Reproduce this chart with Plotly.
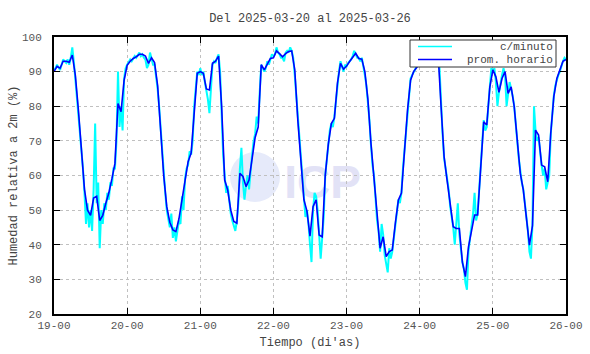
import pandas as pd
import plotly.graph_objects as go

# ---------------- data ----------------
start = "2025-03-19 00:00"

# hourly average (prom. horario), one value per hour from 19-00 to 26-00
prom_dia19 = [90, 91.5, 91, 93, 93, 92.7, 94.8, 89, 79, 68, 56, 50, 48.5, 53.5, 54, 47,
              48.5, 52, 55, 59, 63.5, 80.8, 78.4, 87.5]
prom_dia20 = [91.8, 93, 93.8, 94.3, 95, 95, 94.5, 92.4, 94, 92.6, 86, 73, 60, 51, 46.5, 44.3,
              43.8, 47.5, 53, 59.7, 64, 66.5, 78, 89.5]
prom_dia21 = [90, 89.5, 85, 84.7, 92.4, 93, 94.5, 80, 58.7, 55.8, 50, 46.7, 46.2, 60.6, 59.7, 56.8,
              58.7, 65, 71, 74, 92, 90.5, 92.4, 93.8]
prom_dia22 = [94, 96, 95.2, 94.3, 95.2, 95.8, 96, 90.5, 76, 64, 53, 49.7, 42.5, 51, 53, 42.8,
              42.3, 60, 69, 75, 76.5, 86.6, 92.4, 90.7]
prom_dia23 = [91.6, 92.9, 94, 95.3, 93.8, 93.6, 90, 82, 69.3, 59.7, 48, 39, 42.3, 36.6, 38, 38.5,
              46.2, 52.9, 54.9, 67.4, 78.9, 87.5, 90, 91.2]
prom_dia24 = [92.4, 93.2, 93.8, 93.4, 95, 95.5, 95.7, 80, 65.4, 58.5, 52, 45.2, 44.7, 44.7, 35, 30.8,
              39.4, 44.3, 48.6, 48.6, 63.5, 75.5, 74.6, 85.5]
prom_dia25 = [90.5, 88.5, 84, 88, 90, 83.7, 85.6, 80, 70.3, 60.6, 55.8, 48.1, 39.9, 45.5, 73.1, 71.7,
              63, 62.5, 58.2, 72.2, 82.8, 88, 90.5, 93]
prom_final = [93.5]

min_dia19 = [90.5, 91, 92, 91, 90.5, 92, 93.5, 93, 92.5, 93.5, 92, 94, 97, 93, 88, 84, 78, 74, 69, 62,
             55, 46, 52, 45, 50, 44, 56, 75, 52, 58, 39, 50, 46, 52, 50, 55, 53, 58, 57, 62,
             62, 70, 90, 74, 80, 73, 88, 91]
min_dia20 = [92, 93, 93.5, 93, 94, 94.5, 94, 95, 95.5, 94.5, 95, 94, 93.5, 91, 92, 95.5, 93.5, 92, 92, 89,
             85, 80, 73, 67, 60, 55, 50, 47, 45, 49, 42, 45, 41, 44, 47, 46, 54, 50, 59, 62,
             63, 67, 66, 70, 80, 85, 90, 89]
min_dia21 = [91, 89, 90, 87, 85, 82, 78, 87, 92, 93, 92.5, 94, 95, 90, 78, 66, 60, 55, 57, 53,
             49, 47, 45, 44, 47, 52, 62, 68, 58, 53, 57, 60, 56, 62, 66, 70, 72, 77, 75, 84,
             92, 91, 90, 91, 93, 92, 93.5, 95]
min_dia22 = [94.5, 95, 97, 95.5, 95, 94, 94, 93, 95.5, 96, 95.5, 97, 96, 94, 89, 83, 77, 70, 64, 58,
             53, 48, 50, 46, 40, 35, 50, 55, 54, 50, 43, 36, 42, 48, 60, 65, 69, 73, 75, 74,
             77, 82, 87, 90, 93, 91, 90, 92]
min_dia23 = [91.5, 92.5, 93, 93.5, 94.5, 96, 95, 94, 94, 93, 94, 92, 89, 86, 82, 76, 69, 63, 60, 52,
             47, 44, 38, 46, 43, 37, 35, 32, 39, 36, 38, 42, 46, 50, 53, 52, 55, 62, 67, 73,
             79, 84, 88, 89, 90, 91, 91.5, 92]
min_dia24 = [92.5, 93, 93.5, 93, 94, 93.5, 93, 94.5, 95, 96, 95.5, 96, 96, 91, 79, 72, 65, 62, 58, 56,
             51, 48, 45, 40, 46, 52, 43, 38, 35, 33, 29, 27, 38, 42, 45, 49, 55, 47, 49, 56,
             63, 70, 76, 73, 74, 80, 85, 91]
min_dia25 = [90, 91, 87, 80, 84, 87, 89, 91, 89, 80, 84, 87, 85, 83, 80, 76, 70, 65, 61, 58,
             56, 52, 48, 44, 38, 36, 46, 80, 73, 70, 71, 66, 63, 60, 62, 56, 58, 60, 72, 78,
             83, 86, 88, 89, 90, 92, 93, 94]
min_final = [93.5]

tick_dias = ["2025-03-19", "2025-03-20", "2025-03-21", "2025-03-22",
             "2025-03-23", "2025-03-24", "2025-03-25", "2025-03-26"]

titulo = "Del 2025-03-20 al 2025-03-26"
eje_x = "Tiempo (di'as)"
eje_y = "Humedad relativa a 2m (%)"
nombre_min = "c/minuto"
nombre_prom = "prom. horario"

# ---------------- build ----------------
prom = (prom_dia19 + prom_dia20 + prom_dia21 + prom_dia22 + prom_dia23 +
        prom_dia24 + prom_dia25 + prom_final)
minuto = (min_dia19 + min_dia20 + min_dia21 + min_dia22 + min_dia23 +
          min_dia24 + min_dia25 + min_final)

t_prom = pd.date_range(start, periods=len(prom), freq="h")
t_min = pd.date_range(start, periods=len(minuto), freq="30min")

MONO = "Liberation Mono, Courier New, monospace"
C_MIN = "#00ffff"
C_PROM = "#0000ff"

fig = go.Figure()
fig.add_trace(go.Scatter(x=t_min, y=minuto, mode="lines",
                         line=dict(color=C_MIN, width=2), name=nombre_min,
                         showlegend=False))
fig.add_trace(go.Scatter(x=t_prom, y=prom, mode="lines",
                         line=dict(color=C_PROM, width=1.6), name=nombre_prom,
                         showlegend=False))

L, R, T, B = 54, 24, 37, 40
W, H = 590, 354
pw, ph = W - L - R, H - T - B

def px(x):
    return (x - L) / pw

def py(y):
    return (H - B - y) / ph

# faint logo watermark behind the data
fig.add_shape(type="circle", xref="paper", yref="paper",
              x0=px(230), x1=px(280), y0=py(202), y1=py(152),
              fillcolor="#e6eafa", line=dict(width=0), layer="below")
fig.add_shape(type="rect", xref="paper", yref="paper",
              x0=px(283), x1=px(362), y0=py(200), y1=py(155),
              fillcolor="rgba(0,0,0,0)", line=dict(width=0), layer="below",
              label=dict(text="<b>ICP</b>", font=dict(family="Liberation Sans, Arial", size=46,
                                                      color="#e2e2f6")))

# legend box (drawn to match the compact, right-aligned original)
fig.add_shape(type="rect", xref="paper", yref="paper",
              x0=px(410), x1=px(556), y0=py(67), y1=py(40),
              fillcolor="white", line=dict(color="#333333", width=1), layer="above")
for yy, col, txt in [(46.5, C_MIN, nombre_min), (59.5, C_PROM, nombre_prom)]:
    fig.add_shape(type="line", xref="paper", yref="paper",
                  x0=px(418), x1=px(452), y0=py(yy), y1=py(yy),
                  line=dict(color=col, width=1.5), layer="above")
    fig.add_annotation(xref="paper", yref="paper", x=px(555), y=py(yy),
                       xanchor="right", yanchor="middle", showarrow=False,
                       text=txt, font=dict(family=MONO, size=11, color="#444444"))

fig.update_layout(
    width=W, height=H,
    margin=dict(l=L, r=R, t=T, b=B, autoexpand=False),
    paper_bgcolor="white", plot_bgcolor="white",
    font=dict(family=MONO, size=11, color="#444444"),
    title=dict(text=titulo, x=0.5, xref="paper", y=1 - 18 / H, yref="container",
               yanchor="middle", xanchor="center",
               font=dict(family=MONO, size=12, color="#444444")),
    showlegend=False,
)

fig.update_xaxes(
    range=[tick_dias[0], tick_dias[-1]],
    tickvals=tick_dias, tickformat="%d-%H",
    ticks="inside", ticklen=6, tickcolor="black", tickwidth=1,
    showline=True, linecolor="black", linewidth=2, mirror="ticks",
    showgrid=True, gridcolor="#c0c0c0", griddash="dot", gridwidth=1,
    tickfont=dict(family=MONO, size=11, color="#555555"),
    title=dict(text=eje_x, standoff=6, font=dict(family=MONO, size=12, color="#444444")),
    zeroline=False, automargin=False,
)
fig.update_yaxes(
    range=[20, 100], dtick=10, tick0=20,
    ticks="inside", ticklen=6, tickcolor="black", tickwidth=1,
    showline=True, linecolor="black", linewidth=2, mirror="ticks",
    showgrid=True, gridcolor="#c0c0c0", griddash="dot", gridwidth=1,
    tickfont=dict(family=MONO, size=11, color="#555555"), ticklabelstandoff=8,
    title=dict(text=eje_y, standoff=2, font=dict(family=MONO, size=12, color="#444444")),
    zeroline=False, automargin=False,
)

fig.write_html("out.html")
